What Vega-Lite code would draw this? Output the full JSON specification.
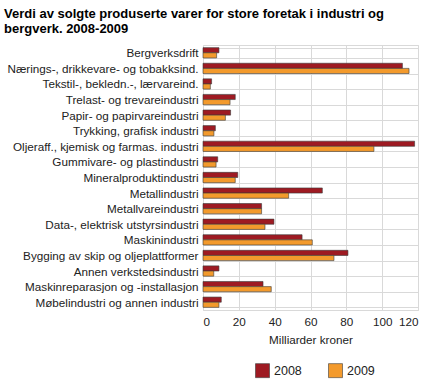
{
  "$schema": "https://vega.github.io/schema/vega-lite/v6.json",
  "autosize": {"type": "none"},
  "width": 215,
  "height": 265,
  "padding": {"left": 203, "top": 45, "right": 12, "bottom": 80},
  "background": "white",
  "title": {
    "text": ["Verdi av solgte produserte varer for store foretak i industri og", "bergverk. 2008-2009"],
    "anchor": "start",
    "frame": "group",
    "dx": -199,
    "offset": 4,
    "font": "Liberation Sans",
    "fontSize": 13,
    "fontWeight": "bold",
    "color": "#000",
    "lineHeight": 15
  },
  "config": {
    "view": {"stroke": "#d9d9d9"},
    "font": "Liberation Sans"
  },
  "data": {
    "values": [
      {"bransje": "Bergverksdrift", "aar": "2008", "verdi": 8.9},
      {"bransje": "Bergverksdrift", "aar": "2009", "verdi": 7.6},
      {"bransje": "Nærings-, drikkevare- og tobakksind.", "aar": "2008", "verdi": 111.3},
      {"bransje": "Nærings-, drikkevare- og tobakksind.", "aar": "2009", "verdi": 115.0},
      {"bransje": "Tekstil-, bekledn.-, lærvareind.", "aar": "2008", "verdi": 4.8},
      {"bransje": "Tekstil-, bekledn.-, lærvareind.", "aar": "2009", "verdi": 4.1},
      {"bransje": "Trelast- og trevareindustri", "aar": "2008", "verdi": 18.0},
      {"bransje": "Trelast- og trevareindustri", "aar": "2009", "verdi": 15.1},
      {"bransje": "Papir- og papirvareindustri", "aar": "2008", "verdi": 15.4},
      {"bransje": "Papir- og papirvareindustri", "aar": "2009", "verdi": 12.5},
      {"bransje": "Trykking, grafisk industri", "aar": "2008", "verdi": 6.9},
      {"bransje": "Trykking, grafisk industri", "aar": "2009", "verdi": 6.1},
      {"bransje": "Oljeraff., kjemisk og farmas. industri", "aar": "2008", "verdi": 118.1},
      {"bransje": "Oljeraff., kjemisk og farmas. industri", "aar": "2009", "verdi": 95.4},
      {"bransje": "Gummivare- og plastindustri", "aar": "2008", "verdi": 8.2},
      {"bransje": "Gummivare- og plastindustri", "aar": "2009", "verdi": 7.3},
      {"bransje": "Mineralproduktindustri", "aar": "2008", "verdi": 19.4},
      {"bransje": "Mineralproduktindustri", "aar": "2009", "verdi": 18.0},
      {"bransje": "Metallindustri", "aar": "2008", "verdi": 66.6},
      {"bransje": "Metallindustri", "aar": "2009", "verdi": 47.8},
      {"bransje": "Metallvareindustri", "aar": "2008", "verdi": 32.7},
      {"bransje": "Metallvareindustri", "aar": "2009", "verdi": 32.7},
      {"bransje": "Data-, elektrisk utstyrsindustri", "aar": "2008", "verdi": 39.6},
      {"bransje": "Data-, elektrisk utstyrsindustri", "aar": "2009", "verdi": 34.6},
      {"bransje": "Maskinindustri", "aar": "2008", "verdi": 55.3},
      {"bransje": "Maskinindustri", "aar": "2009", "verdi": 61.0},
      {"bransje": "Bygging av skip og oljeplattformer", "aar": "2008", "verdi": 80.9},
      {"bransje": "Bygging av skip og oljeplattformer", "aar": "2009", "verdi": 73.1},
      {"bransje": "Annen verkstedsindustri", "aar": "2008", "verdi": 8.9},
      {"bransje": "Annen verkstedsindustri", "aar": "2009", "verdi": 6.0},
      {"bransje": "Maskinreparasjon og -installasjon", "aar": "2008", "verdi": 33.5},
      {"bransje": "Maskinreparasjon og -installasjon", "aar": "2009", "verdi": 38.1},
      {"bransje": "Møbelindustri og annen industri", "aar": "2008", "verdi": 10.2},
      {"bransje": "Møbelindustri og annen industri", "aar": "2009", "verdi": 8.9}
    ]
  },
  "mark": {"type": "bar", "stroke": "#3a3a3a", "strokeWidth": 0.6},
  "encoding": {
    "y": {
      "field": "bransje",
      "type": "nominal",
      "sort": null,
      "scale": {"paddingInner": 0.34, "paddingOuter": 0.17},
      "axis": {
        "title": null,
        "ticks": false,
        "domain": false,
        "tickBand": "extent",
        "grid": true,
        "gridColor": "#d9d9d9",
        "labelFont": "Liberation Sans",
        "labelFontSize": 11.7,
        "labelColor": "#222",
        "labelPadding": 5,
        "labelLimit": 205
      }
    },
    "yOffset": {"field": "aar", "type": "nominal"},
    "x": {
      "field": "verdi",
      "type": "quantitative",
      "scale": {"domain": [0, 120]},
      "axis": {
        "title": "Milliarder kroner",
        "values": [0, 20, 40, 60, 80, 100, 120],
        "ticks": false,
        "domain": false,
        "gridColor": "#d9d9d9",
        "labelFont": "Liberation Sans",
        "labelFontSize": 11.7,
        "labelColor": "#222",
        "labelPadding": 6,
        "titleFont": "Liberation Sans",
        "titleFontSize": 11.7,
        "titleFontWeight": "normal",
        "titleColor": "#222",
        "titlePadding": 7
      }
    },
    "color": {
      "field": "aar",
      "type": "nominal",
      "scale": {"domain": ["2008", "2009"], "range": ["#9e1a22", "#f39a2c"]},
      "legend": {
        "title": null,
        "orient": "none",
        "legendX": 52,
        "legendY": 318,
        "direction": "horizontal",
        "symbolType": "square",
        "symbolSize": 196,
        "symbolStrokeColor": "#3a3a3a",
        "symbolStrokeWidth": 0.6,
        "symbolOpacity": 1,
        "labelFont": "Liberation Sans",
        "labelFontSize": 12.5,
        "labelColor": "#222",
        "labelOffset": 4,
        "columnPadding": 25
      }
    }
  }
}
